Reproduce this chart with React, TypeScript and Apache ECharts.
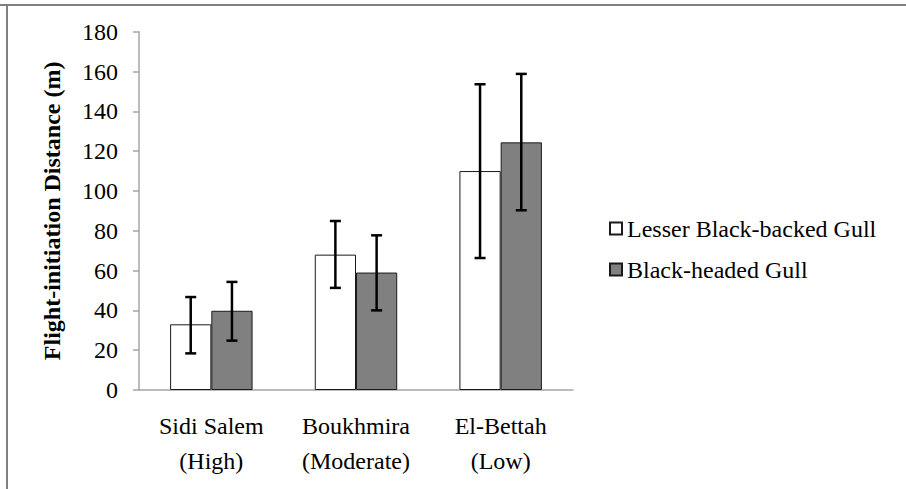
import React, { useEffect, useRef } from "react";
import * as echarts from "echarts";

const categories = ["Sidi Salem\n(High)", "Boukhmira\n(Moderate)", "El-Bettah\n(Low)"];
const seriesNames = ["Lesser Black-backed Gull", "Black-headed Gull"];
const lesserMeans = [33, 68, 110];
const lesserLow = [18.4, 51.3, 66.3];
const lesserHigh = [46.7, 84.9, 153.6];
const blackMeans = [39.8, 59, 124.4];
const blackLow = [24.8, 40, 90.3];
const blackHigh = [54.3, 77.7, 158.8];
const yTicks = { min: 0, max: 180, interval: 20 };

const FONT = "Times New Roman, Liberation Serif, serif";

function errorSeries(idx: number, low: number[], high: number[]) {
  return {
    type: "custom",
    name: "err" + idx,
    z: 10,
    data: categories.map((_, i) => [i, low[i], high[i]]),
    encode: { x: 0, y: [1, 2] },
    renderItem: (params: any, api: any) => {
      const ci = api.value(0);
      const lo = api.coord([ci, api.value(1)]);
      const hi = api.coord([ci, api.value(2)]);
      const bw = (api.size([1, 0])[0] as number) * 0.57 / 2;
      const x = lo[0] + (idx === 0 ? -bw / 2 : bw / 2);
      const cap = 5.5;
      const st = { stroke: "#000", lineWidth: 2.5 };
      return {
        type: "group",
        children: [
          { type: "line", shape: { x1: x, y1: hi[1], x2: x, y2: lo[1] }, style: st },
          { type: "line", shape: { x1: x - cap, y1: hi[1], x2: x + cap, y2: hi[1] }, style: st },
          { type: "line", shape: { x1: x - cap, y1: lo[1], x2: x + cap, y2: lo[1] }, style: st },
        ],
      };
    },
  };
}

export default function App() {
  const ref = useRef<HTMLDivElement>(null);
  useEffect(() => {
    if (!ref.current) return;
    const chart = echarts.init(ref.current, undefined, { renderer: "svg" });
    chart.setOption({
      animation: false,
      backgroundColor: "#fff",
      textStyle: { fontFamily: FONT, fontWeight: "normal" },
      grid: { left: 139, right: 333, top: 31.7, bottom: 99, containLabel: false },
      legend: {
        data: seriesNames,
        orient: "vertical",
        left: 609,
        top: 216.5,
        padding: 0,
        icon: "rect",
        itemWidth: 12,
        itemHeight: 12,
        itemGap: 17,
        textStyle: { fontFamily: FONT, fontSize: 24, lineHeight: 24, color: "#000", fontWeight: "normal" },
      },
      xAxis: {
        type: "category",
        data: categories,
        axisLine: { lineStyle: { color: "#a6a6a6", width: 1.5 } },
        axisTick: { show: false },
        axisLabel: {
          fontFamily: FONT,
          fontWeight: "normal",
          fontSize: 24,
          color: "#000",
          lineHeight: 35,
          margin: 18,
        },
      },
      yAxis: {
        type: "value",
        min: yTicks.min,
        max: yTicks.max,
        interval: yTicks.interval,
        name: "Flight-initiation Distance (m)",
        nameLocation: "middle",
        nameGap: 75,
        nameTextStyle: { fontFamily: FONT, fontSize: 24, fontWeight: "bold", color: "#000" },
        axisLine: { show: true, lineStyle: { color: "#a6a6a6", width: 1.5 } },
        axisTick: { show: true, length: 6, lineStyle: { color: "#a6a6a6", width: 1.5 } },
        splitLine: { show: false },
        axisLabel: { fontFamily: FONT, fontWeight: "normal", fontSize: 24, color: "#000", margin: 21 },
      },
      graphic: [
        { type: "line", shape: { x1: 0, y1: 5, x2: 906, y2: 5 }, style: { stroke: "#808080", lineWidth: 2 } },
        { type: "line", shape: { x1: 7, y1: 4, x2: 7, y2: 489 }, style: { stroke: "#808080", lineWidth: 2 } },
      ],
      series: [
        {
          type: "bar",
          name: seriesNames[0],
          data: lesserMeans,
          barGap: "0%",
          barCategoryGap: "43%",
          itemStyle: { color: "#ffffff", borderColor: "#1a1a1a", borderWidth: 1 },
        },
        {
          type: "bar",
          name: seriesNames[1],
          data: blackMeans,
          barGap: "0%",
          barCategoryGap: "43%",
          itemStyle: { color: "#808080", borderColor: "#1a1a1a", borderWidth: 1 },
        },
        errorSeries(0, lesserLow, lesserHigh),
        errorSeries(1, blackLow, blackHigh),
      ],
    });
    return () => chart.dispose();
  }, []);
  return (
    <div style={{ position: "fixed", left: 0, top: 0, width: 906, height: 489 }}>
      <div ref={ref} style={{ width: 906, height: 489 }} />
    </div>
  );
}
